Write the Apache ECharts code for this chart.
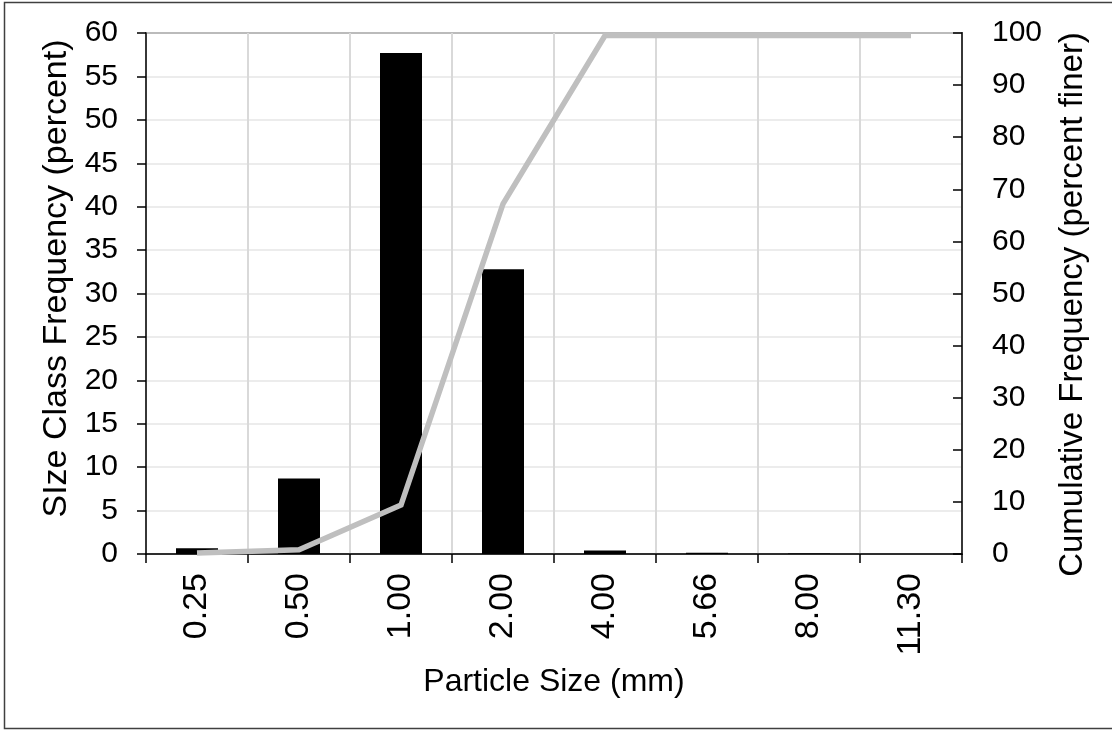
<!DOCTYPE html>
<html>
<head>
<meta charset="utf-8">
<script src="https://cdn.jsdelivr.net/npm/echarts@6/dist/echarts.min.js"></script>
<style>
html,body{margin:0;padding:0;background:#fff;}
#chart{width:1112px;height:731px;}
</style>
</head>
<body>
<div id="chart"></div>
<script>
const categories = ['0.25', '0.50', '1.00', '2.00', '4.00', '5.66', '8.00', '11.30'];
const sizeClassFrequency = [0.66, 8.7, 57.7, 32.8, 0.4, 0.15, 0.05, 0];
const cumulativeFrequency = [0.2, 0.8, 9.4, 67.2, 99.5, 99.5, 99.5, 99.5];
const leftTicks = { min: 0, max: 60, interval: 5 };
const rightTicks = { min: 0, max: 100, interval: 10 };

const FONT = "'Liberation Sans', Arial, sans-serif";
const chart = echarts.init(document.getElementById('chart'), null, { renderer: 'canvas' });
chart.setOption({
  backgroundColor: '#ffffff',
  animation: false,
  textStyle: { fontFamily: FONT, color: '#000' },
  graphic: [{
    type: 'rect',
    shape: { x: 4.5, y: 2.5, width: 1120, height: 726 },
    style: { fill: 'none', stroke: '#404040', lineWidth: 1.5 },
    z: -10
  }],
  grid: {
    left: 146, right: 150, top: 33, bottom: 177,
    show: true, borderColor: '#000', borderWidth: 1.5, backgroundColor: 'transparent'
  },
  xAxis: {
    type: 'category',
    data: categories,
    boundaryGap: true,
    name: 'Particle Size (mm)',
    nameLocation: 'middle',
    nameGap: 112,
    nameTextStyle: { fontFamily: FONT, fontSize: 32, color: '#000' },
    axisLine: { show: true, lineStyle: { color: '#000', width: 1.5 } },
    axisTick: { show: true, inside: false, length: 9, lineStyle: { color: '#000', width: 1.5 } },
    axisLabel: { rotate: 90, margin: 19, fontFamily: FONT, fontSize: 34, color: '#000' },
    splitLine: { show: true, lineStyle: { color: '#d9d9d9', width: 2 } }
  },
  yAxis: [{
    type: 'value',
    min: leftTicks.min, max: leftTicks.max, interval: leftTicks.interval,
    name: 'SIze Class Frequency (percent)',
    nameLocation: 'middle',
    nameGap: 65,
    nameRotate: 90,
    nameTextStyle: { fontFamily: FONT, fontSize: 34, color: '#000', padding: [0, 0, 0, 30] },
    axisLine: { show: true, lineStyle: { color: '#000', width: 1.5 } },
    axisTick: { show: true, inside: false, length: 9, lineStyle: { color: '#000', width: 1.5 } },
    axisLabel: { margin: 28, fontFamily: FONT, fontSize: 30, color: '#000' },
    splitLine: { show: true, lineStyle: { color: '#e6e6e6', width: 1.5 } }
  }, {
    type: 'value',
    position: 'right',
    min: rightTicks.min, max: rightTicks.max, interval: rightTicks.interval,
    name: 'Cumulative Frequency (percent finer)',
    nameLocation: 'middle',
    nameGap: 94,
    nameRotate: 90,
    nameTextStyle: { fontFamily: FONT, fontSize: 33, color: '#000', padding: [0, 22, 0, 0] },
    axisLine: { show: true, lineStyle: { color: '#000', width: 1.5 } },
    axisTick: { show: true, inside: true, length: 9, lineStyle: { color: '#000', width: 1.5 } },
    axisLabel: { margin: 30, fontFamily: FONT, fontSize: 30, color: '#000' },
    splitLine: { show: false }
  }],
  series: [{
    type: 'bar',
    data: sizeClassFrequency,
    yAxisIndex: 0,
    barWidth: 42,
    itemStyle: { color: '#000' },
    z: 2
  }, {
    type: 'line',
    data: cumulativeFrequency,
    yAxisIndex: 1,
    showSymbol: false,
    symbol: 'none',
    lineStyle: { color: '#bfbfbf', width: 5.5, cap: 'butt', join: 'miter' },
    z: 3
  }]
});
</script>
</body>
</html>
